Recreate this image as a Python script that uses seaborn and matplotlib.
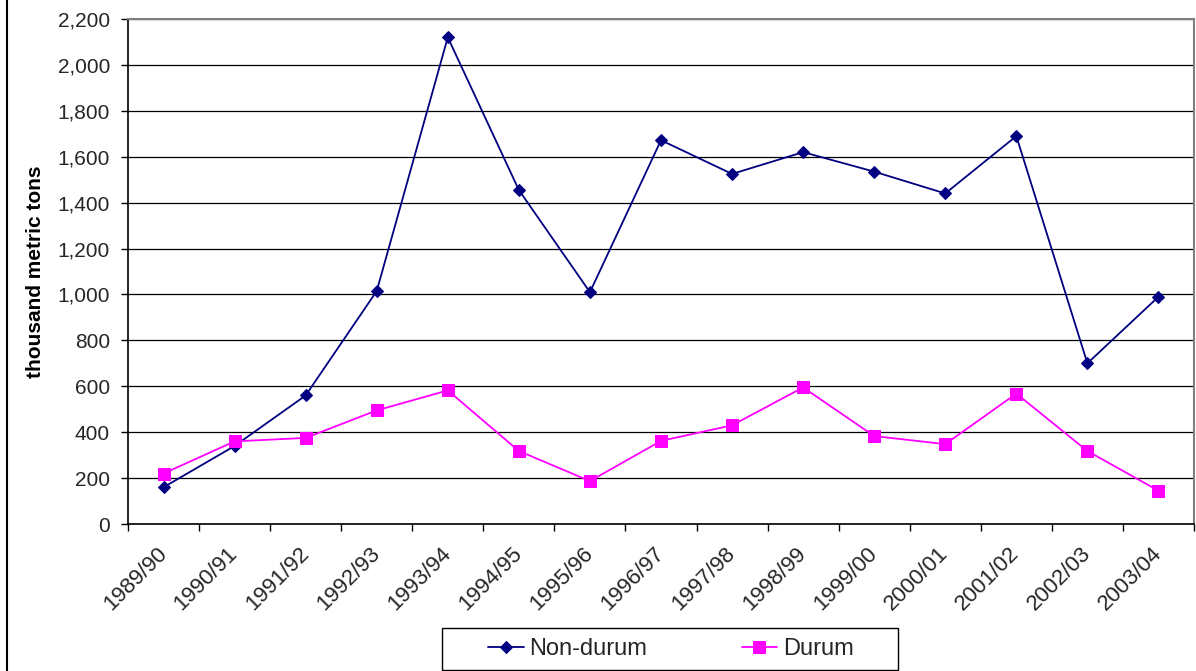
import matplotlib
matplotlib.use("Agg")
import matplotlib.pyplot as plt
from matplotlib.lines import Line2D
from matplotlib.patches import Rectangle
from matplotlib.ticker import FuncFormatter, FixedLocator
import seaborn as sns
import pandas as pd

seasons = ["1989/90", "1990/91", "1991/92", "1992/93", "1993/94", "1994/95",
           "1995/96", "1996/97", "1997/98", "1998/99", "1999/00", "2000/01",
           "2001/02", "2002/03", "2003/04"]
non_durum = [160, 340, 560, 1015, 2120, 1455, 1010, 1672, 1525, 1620,
             1535, 1440, 1690, 700, 990]
durum = [220, 360, 375, 495, 582, 318, 187, 362, 430, 595,
         383, 348, 568, 318, 145]
series_names = ["Non-durum", "Durum"]
y_ticks = list(range(0, 2201, 200))

df = pd.DataFrame({
    "pos": list(range(len(seasons))) * 2,
    "value": non_durum + durum,
    "series": [series_names[0]] * len(seasons) + [series_names[1]] * len(seasons),
})

sns.set_theme(style="white")
plt.rcParams["font.family"] = ["Liberation Sans", "DejaVu Sans"]

W, H = 1196, 671
fig = plt.figure(figsize=(W / 100, H / 100), dpi=100)
ax = fig.add_axes([128 / W, 1 - 524 / H, (1194 - 128) / W, (524 - 19) / H])

palette = {"Non-durum": "#000080", "Durum": "#FF00FF"}
markers = {"Non-durum": "D", "Durum": "s"}
sizes = {"Non-durum": 6.5, "Durum": 8}

for name in series_names:
    sub = df[df["series"] == name]
    sns.lineplot(data=sub, x="pos", y="value", ax=ax, color=palette[name],
                 marker=markers[name], markersize=sizes[name],
                 markeredgecolor=palette[name], linewidth=1.3,
                 label=name, legend=False)

ax.set_xlim(-0.5, len(seasons) - 0.5)
ax.set_ylim(0, 2200)

# horizontal gridlines
ax.set_yticks(y_ticks)
ax.yaxis.set_major_formatter(FuncFormatter(lambda v, p: f"{int(v):,}"))
ax.grid(axis="y", color="black", linewidth=0.9)
ax.grid(axis="x", visible=False)
ax.set_axisbelow(True)

# category labels at centres, tick marks at boundaries
ax.set_xticks(range(len(seasons)))
ax.set_xticklabels(seasons)
ax.xaxis.set_minor_locator(FixedLocator([i - 0.5 for i in range(len(seasons) + 1)]))
ax.tick_params(axis="x", which="major", length=0, pad=19, labelsize=16)
ax.tick_params(axis="x", which="minor", bottom=True, length=5, width=1, color="black")
for lbl in ax.get_xticklabels():
    lbl.set_rotation(45)
    lbl.set_rotation_mode("anchor")
    lbl.set_ha("right")
    lbl.set_va("center")

ax.tick_params(axis="y", which="major", left=True, length=5, width=1,
               color="black", pad=8, labelsize=15)

for side in ["left", "bottom"]:
    ax.spines[side].set_color("black")
    ax.spines[side].set_linewidth(1.2)
for side in ["top", "right"]:
    ax.spines[side].set_visible(True)
    ax.spines[side].set_color("#808080")
    ax.spines[side].set_linewidth(1.5)

ax.set_xlabel("")
ax.set_ylabel("thousand metric tons", fontsize=15, fontweight="bold", color="black")
ax.yaxis.set_label_coords((45 - 128) / 1066, 0.5)

# legend entries, boxed by a plain rectangle
handles, labels = ax.get_legend_handles_labels()
leg = fig.legend(handles, labels, loc="center", ncol=2,
                 bbox_to_anchor=(671 / W, 1 - 649 / H), fontsize=17,
                 frameon=False, handlelength=1.5, handletextpad=0.25,
                 columnspacing=4.0, borderpad=0.0)
fig.add_artist(Rectangle((442 / W, 1 - 670 / H), (898 - 442) / W, (670 - 628) / H,
                         transform=fig.transFigure, fill=False,
                         edgecolor="black", linewidth=1.0))

# outer chart frame edge on the left
fig.add_artist(Line2D([7 / W, 7 / W], [0, 1], color="black", linewidth=1.5,
                      transform=fig.transFigure))

fig.savefig("out.png", dpi=100, facecolor="white")
